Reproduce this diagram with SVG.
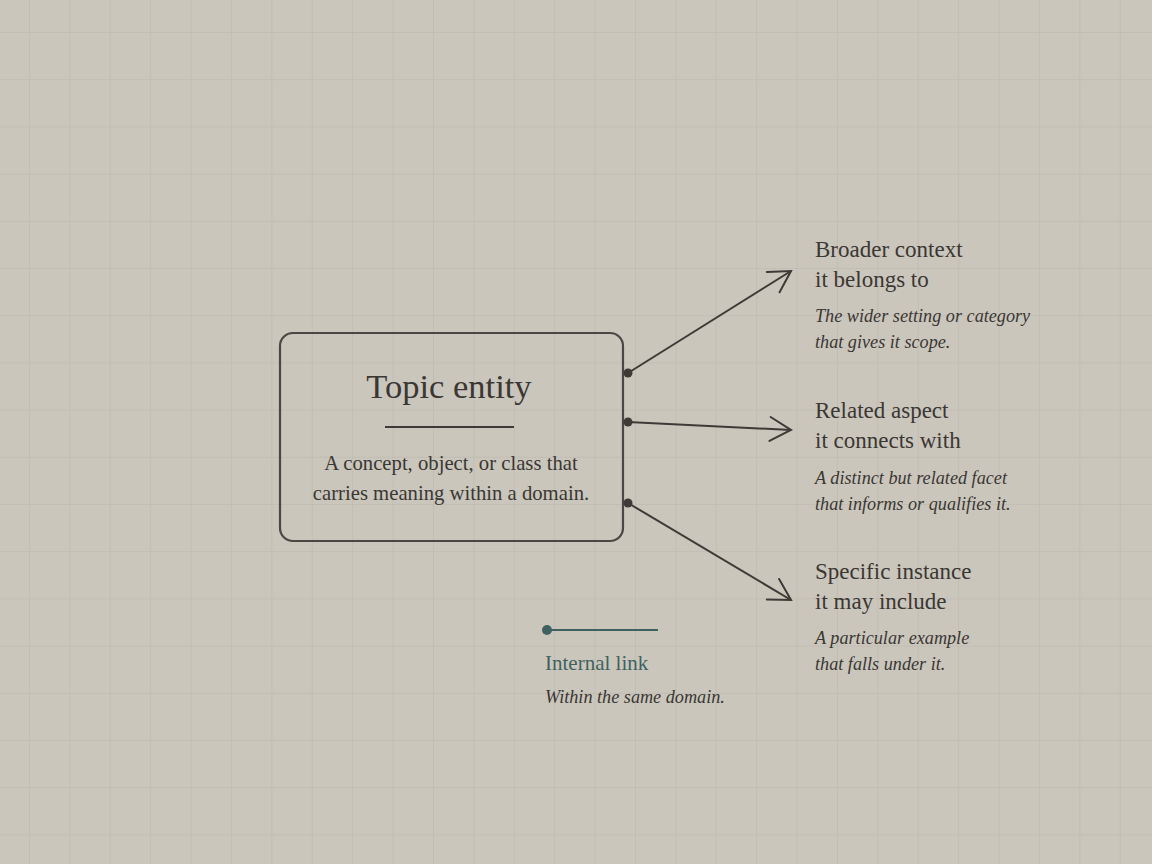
<svg xmlns="http://www.w3.org/2000/svg" width="1152" height="864" viewBox="0 0 1152 864">
  <defs>
    <pattern id="grid" x="29" y="32" width="40.4" height="47.2" patternUnits="userSpaceOnUse">
      <path d="M 0 0 L 0 47.2 M 0 0 L 40.4 0" fill="none" stroke="#bab6ac" stroke-width="1"/>
    </pattern>
    <marker id="arrow" markerUnits="userSpaceOnUse" markerWidth="40" markerHeight="40" refX="0" refY="0" viewBox="-25 -20 30 40" orient="auto" overflow="visible">
      <path d="M -21 -12 L 0 0 L -21 12" fill="none" stroke="#3d3a37" stroke-width="2" stroke-linecap="round" stroke-linejoin="miter"/>
    </marker>
    <style>
      .title { font-family: "Liberation Serif", "DejaVu Serif", serif; font-size: 34.5px; fill: #3a3734; }
      .body { font-family: "Liberation Serif", "DejaVu Serif", serif; font-size: 20.7px; fill: #3a3734; }
      .head { font-family: "Liberation Serif", "DejaVu Serif", serif; font-size: 23px; fill: #3a3734; }
      .desc { font-family: "Liberation Serif", "DejaVu Serif", serif; font-size: 18.2px; font-style: italic; fill: #3a3734; }
      .conn { stroke: #3d3a37; stroke-width: 2; fill: none; }
      .dot { fill: #3d3a37; }
      .legend { font-family: "Liberation Serif", "DejaVu Serif", serif; font-size: 21px; fill: #3f6260; }
    </style>
  </defs>

  <rect x="0" y="0" width="1152" height="864" fill="#cac6bc"/>
  <rect x="0" y="0" width="1152" height="864" fill="url(#grid)"/>

  <g id="topic-entity">
    <rect x="280" y="333" width="343" height="208" rx="13" ry="13" fill="none" stroke="#4a4744" stroke-width="2.2"/>
    <text class="title" x="449" y="398" text-anchor="middle">Topic entity</text>
    <line x1="385" y1="427" x2="514" y2="427" stroke="#3d3a37" stroke-width="2"/>
    <text class="body" x="451" y="470" text-anchor="middle">A concept, object, or class that</text>
    <text class="body" x="451" y="500" text-anchor="middle">carries meaning within a domain.</text>
  </g>

  <g id="connectors">
    <line class="conn" x1="628" y1="373" x2="791" y2="271" marker-end="url(#arrow)"/>
    <line class="conn" x1="628" y1="422" x2="791" y2="430" marker-end="url(#arrow)"/>
    <line class="conn" x1="628" y1="503" x2="791" y2="600" marker-end="url(#arrow)"/>
    <circle class="dot" cx="628" cy="373" r="4.5"/>
    <circle class="dot" cx="628" cy="422" r="4.5"/>
    <circle class="dot" cx="628" cy="503" r="4.5"/>
  </g>

  <g id="broader-context">
    <text class="head" x="815" y="257">Broader context</text>
    <text class="head" x="815" y="287">it belongs to</text>
    <text class="desc" x="815" y="322">The wider setting or category</text>
    <text class="desc" x="815" y="348">that gives it scope.</text>
  </g>

  <g id="related-aspect">
    <text class="head" x="815" y="418">Related aspect</text>
    <text class="head" x="815" y="448">it connects with</text>
    <text class="desc" x="815" y="484">A distinct but related facet</text>
    <text class="desc" x="815" y="510">that informs or qualifies it.</text>
  </g>

  <g id="specific-instance">
    <text class="head" x="815" y="579">Specific instance</text>
    <text class="head" x="815" y="609">it may include</text>
    <text class="desc" x="815" y="644">A particular example</text>
    <text class="desc" x="815" y="670">that falls under it.</text>
  </g>

  <g id="legend">
    <line x1="547" y1="630" x2="658" y2="630" stroke="#3f6260" stroke-width="2"/>
    <circle cx="547" cy="630" r="5" fill="#3f6260"/>
    <text class="legend" x="545" y="670">Internal link</text>
    <text class="desc" x="545" y="703">Within the same domain.</text>
  </g>
</svg>
